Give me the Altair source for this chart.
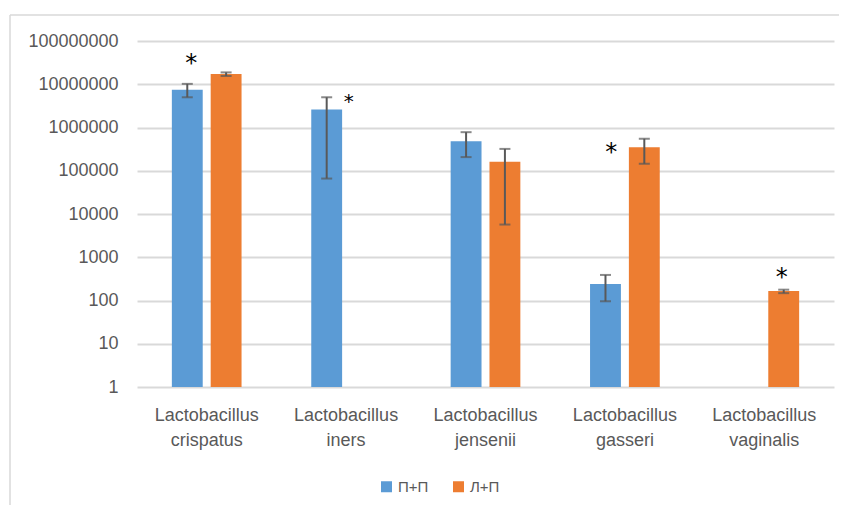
import altair as alt
import pandas as pd

# ---- data ----
categories = ["Lactobacillus crispatus", "Lactobacillus iners", "Lactobacillus jensenii",
              "Lactobacillus gasseri", "Lactobacillus vaginalis"]
series = ["П+П", "Л+П"]

pp_values = [7.5e6, 2.6e6, 4.8e5, 240, None]
pp_low = [5.0e6, 6.6e4, 2.07e5, 96, None]
pp_high = [1.02e7, 5.0e6, 7.8e5, 390, None]

lp_values = [1.72e7, None, 1.62e5, 3.5e5, 165]
lp_low = [1.55e7, None, 5.7e3, 1.45e5, 148]
lp_high = [1.88e7, None, 3.2e5, 5.5e5, 178]

star_categories = ["Lactobacillus crispatus", "Lactobacillus iners",
                   "Lactobacillus gasseri", "Lactobacillus vaginalis"]
star_series = ["П+П", "П+П", "Л+П", "Л+П"]
star_levels = [4.2e7, 5.3e6, 3.7e5, 474]

y_ticks = [1, 10, 100, 1000, 10000, 100000, 1000000, 10000000, 100000000]

# ---- build table ----
rows = []
for s, vals, lows, highs in [(series[0], pp_values, pp_low, pp_high),
                             (series[1], lp_values, lp_low, lp_high)]:
    for c, v, lo, hi in zip(categories, vals, lows, highs):
        if v is not None:
            rows.append({"category": c, "series": s, "value": v, "lo": lo, "hi": hi})
df = pd.DataFrame(rows)

stars = pd.DataFrame({"category": star_categories, "series": star_series, "level": star_levels})

# ---- styling ----
BLUE = "#5B9BD5"
ORANGE = "#ED7D31"
GRID = "#D9D9D9"
TEXT = "#595959"
ERR = "#595959"

star_style = {
    "Lactobacillus crispatus": {"dx": 4, "size": 24},
    "Lactobacillus iners": {"dx": 22, "size": 20},
    "Lactobacillus gasseri": {"dx": -33, "size": 24},
    "Lactobacillus vaginalis": {"dx": -2, "size": 24},
}

x_enc = alt.X("category:N", sort=categories,
              scale=alt.Scale(paddingInner=0.5, paddingOuter=0.25),
              axis=alt.Axis(title=None, labelAngle=0, labelExpr="split(datum.label, ' ')",
                            labelFontSize=18, labelColor=TEXT, labelFont="Liberation Sans",
                            labelLineHeight=25, labelPadding=19, ticks=False, domain=False,
                            grid=False))
xoff_enc = alt.XOffset("series:N", sort=series,
                       scale=alt.Scale(domain=series, paddingInner=0.205, paddingOuter=0))
y_scale = alt.Scale(type="log", domain=[1, 1e8], nice=False)

base = alt.Chart(df)

bars = base.mark_bar().encode(
    x=x_enc,
    xOffset=xoff_enc,
    y=alt.Y("value:Q", scale=y_scale,
            axis=alt.Axis(title=None, values=y_ticks, format="d", labelFontSize=18,
                          labelColor=TEXT, labelFont="Liberation Sans", labelPadding=19,
                          ticks=False, domain=False, grid=True, gridColor=GRID,
                          gridWidth=1.8)),
    y2=alt.datum(1),
    color=alt.Color("series:N", sort=series,
                    scale=alt.Scale(domain=series, range=[BLUE, ORANGE]),
                    legend=alt.Legend(title=None, orient="none", direction="horizontal",
                                      legendX=242, legendY=438, symbolType="square",
                                      symbolSize=121, symbolStrokeWidth=0,
                                      labelFontSize=15, labelColor=TEXT,
                                      labelFont="Liberation Sans", labelOffset=4,
                                      columnPadding=22, padding=0)),
)

rules = base.mark_rule(color=ERR, strokeWidth=2).encode(
    x=alt.X("category:N", sort=categories),
    xOffset=alt.XOffset("series:N", sort=series),
    y=alt.Y("lo:Q", scale=y_scale),
    y2="hi:Q",
)

caps_lo = base.mark_tick(color=ERR, thickness=2, size=11, orient="horizontal").encode(
    x=alt.X("category:N", sort=categories),
    xOffset=alt.XOffset("series:N", sort=series),
    y=alt.Y("lo:Q", scale=y_scale),
)
caps_hi = base.mark_tick(color=ERR, thickness=2, size=11, orient="horizontal").encode(
    x=alt.X("category:N", sort=categories),
    xOffset=alt.XOffset("series:N", sort=series),
    y=alt.Y("hi:Q", scale=y_scale),
)

star_layers = []
for cat in star_categories:
    st = star_style[cat]
    star_layers.append(
        alt.Chart(stars).transform_filter(alt.datum.category == cat).mark_text(
            text="*", font="DejaVu Sans", fontSize=st["size"], color="#000000",
            baseline="alphabetic", align="center", dx=st["dx"], dy=round(st["size"] * 0.6)
        ).encode(
            x=alt.X("category:N", sort=categories),
            xOffset=alt.XOffset("series:N", sort=series),
            y=alt.Y("level:Q", scale=y_scale),
        )
    )

frame_data = alt.Data(values=[{"a": 1}])
frame_top = alt.Chart(frame_data).mark_rule(color=GRID, strokeWidth=1.5).encode(
    x=alt.value(-127), x2=alt.value(900), y=alt.value(-26)
)
frame_left = alt.Chart(frame_data).mark_rule(color=GRID, strokeWidth=1.5).encode(
    x=alt.value(-127), y=alt.value(-26), y2=alt.value(700)
)

chart = alt.layer(frame_top, frame_left, bars, rules, caps_lo, caps_hi, *star_layers).properties(
    width=697, height=346,
    autosize=alt.AutoSizeParams(type="none"),
    padding={"left": 129, "top": 33, "right": 5, "bottom": 118},
).configure_view(stroke=None).resolve_scale(y="shared", x="shared")

chart.save("out.html", embed_options={"renderer": "svg", "actions": False})
